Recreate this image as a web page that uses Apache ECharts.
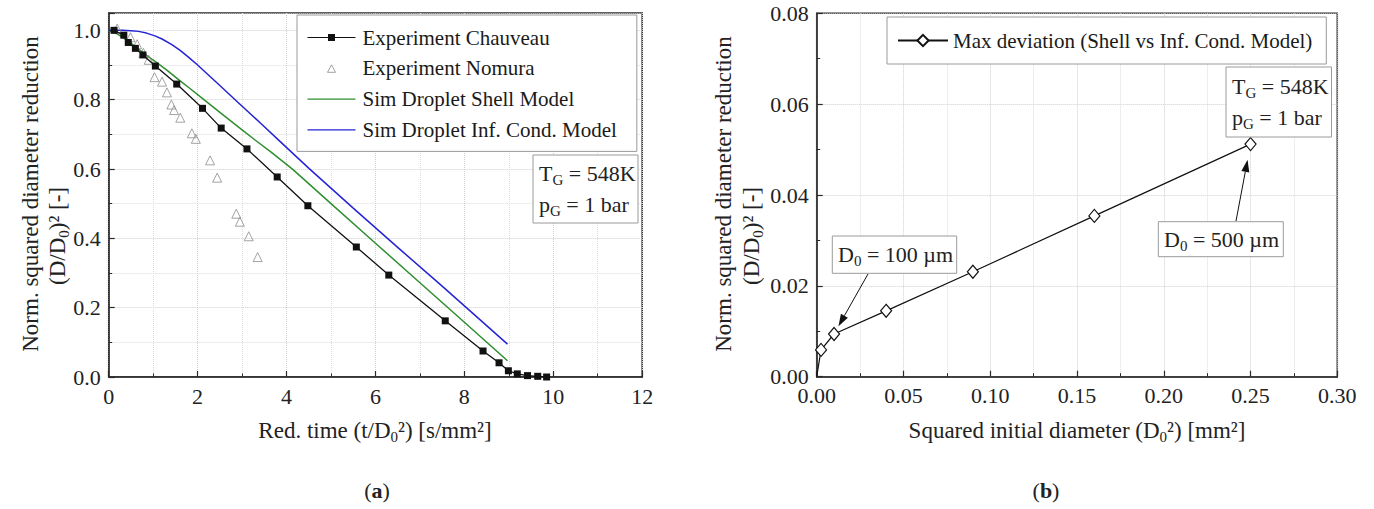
<!DOCTYPE html>
<html><head><meta charset="utf-8">
<script src="https://cdn.jsdelivr.net/npm/echarts@6/dist/echarts.min.js"></script>
<style>html,body{margin:0;padding:0;background:#fff;}#c{width:1374px;height:509px;}</style>
</head><body><div id="c"></div>
<script>
// ---------- data: panel (a) ----------
const chauveauT = [0.12, 0.34, 0.44, 0.60, 0.77, 1.05, 1.53, 2.11, 2.53, 3.11, 3.79, 4.48, 5.57, 6.30, 7.57, 8.42, 8.78, 8.99, 9.19, 9.42, 9.65, 9.85];
const chauveauY = [1.000, 0.986, 0.965, 0.948, 0.929, 0.897, 0.845, 0.775, 0.718, 0.658, 0.577, 0.494, 0.375, 0.294, 0.162, 0.075, 0.041, 0.018, 0.009, 0.004, 0.002, 0.000];
const nomuraT = [0.19, 0.49, 0.64, 0.78, 0.90, 1.03, 1.20, 1.31, 1.41, 1.47, 1.61, 1.87, 1.96, 2.28, 2.44, 2.87, 2.95, 3.15, 3.35];
const nomuraY = [1.005, 0.980, 0.960, 0.935, 0.915, 0.865, 0.852, 0.821, 0.786, 0.770, 0.748, 0.703, 0.687, 0.625, 0.575, 0.471, 0.448, 0.406, 0.346];
const shellT = [0, 0.20, 0.37, 0.50, 0.67, 0.85, 1.05, 1.30, 1.60, 1.80, 2.17, 2.60, 3.00, 3.30, 3.66, 4.14, 5.00, 6.00, 7.00, 8.00, 8.97];
const shellY = [1.000, 0.989, 0.975, 0.963, 0.946, 0.928, 0.910, 0.886, 0.855, 0.835, 0.797, 0.753, 0.713, 0.683, 0.648, 0.599, 0.500, 0.386, 0.272, 0.158, 0.047];
const infT = [0, 0.30, 0.50, 0.67, 0.85, 1.04, 1.20, 1.42, 1.60, 1.80, 2.00, 2.17, 2.50, 2.91, 3.40, 3.84, 4.51, 5.50, 6.50, 7.50, 8.97];
const infY = [1.000, 1.000, 0.999, 0.997, 0.992, 0.984, 0.975, 0.959, 0.943, 0.922, 0.900, 0.880, 0.841, 0.792, 0.734, 0.681, 0.601, 0.487, 0.374, 0.262, 0.095];
const aXTicks = {min: 0, max: 12, interval: 2};
const aYTicks = {min: 0, max: 1.05, interval: 0.2};
// ---------- data: panel (b) ----------
const d0Sq = [0, 0.0025, 0.01, 0.04, 0.09, 0.16, 0.25];
const maxDev = [0, 0.0059, 0.0094, 0.0145, 0.0231, 0.0354, 0.0512];
const bXTicks = {min: 0, max: 0.30, interval: 0.05};
const bYTicks = {min: 0, max: 0.08, interval: 0.02};

const FONT = 'Liberation Serif';
const zip = (a, b) => a.map((v, i) => [v, b[i]]);

function axis(gridIndex, t, dec, minorGrid) {
  return {
    gridIndex, type: 'value', min: t.min, max: t.max, interval: t.interval,
    axisLine: {show: true, onZero: false, lineStyle: {color: '#2a2a2a', width: 1.5}},
    axisTick: {show: true, inside: true, length: 6, lineStyle: {color: '#2a2a2a', width: 1.2}},
    minorTick: {show: true, splitNumber: 2, length: 3.5, lineStyle: {color: '#2a2a2a', width: 1}},
    splitLine: {show: true, lineStyle: {color: '#cfcfcf', type: 'dotted', width: 1}},
    minorSplitLine: {show: minorGrid, lineStyle: {color: '#dcdcdc', type: 'dotted', width: 1}},
    axisLabel: {color: '#222', fontSize: 22, fontFamily: FONT, margin: 8,
      formatter: v => (Math.abs(v / t.interval - Math.round(v / t.interval)) > 1e-6) ? '' : (dec === 0 ? String(Math.round(v)) : v.toFixed(dec))}
  };
}

const chart = echarts.init(document.getElementById('c'), null, {renderer: 'svg'});

const richBase = {
  n: {fontSize: 23, fontFamily: FONT, fill: '#222', lineHeight: 28},
  t: {fontSize: 22, fontFamily: FONT, fill: '#222', lineHeight: 28},
  s: {fontSize: 15, fontFamily: FONT, fill: '#222', lineHeight: 15, verticalAlign: 'bottom'},
  b: {fontSize: 22, fontFamily: FONT, fill: '#222', lineHeight: 28, fontWeight: 'bold'}
};
function txt(x, y, text, opts) {
  opts = opts || {};
  return {type: 'text', x, y, rotation: opts.rot || 0, z: 100,
    style: {text, rich: richBase, fontSize: opts.fs || 23, fontFamily: FONT, fill: '#222',
      align: opts.align || 'center', verticalAlign: opts.va || 'middle'}};
}
function box(x, y, w, h) {
  return {type: 'rect', z: 90, shape: {x, y, width: w, height: h},
    style: {fill: '#fff', stroke: '#9a9a9a', lineWidth: 1}};
}
// legend icons (frame of 48x14 kept by the two leading moves)
const ICON_FRAME = 'path://M0,0M48,14';
const iconLine = ICON_FRAME + 'M0,6.3h48v1.4h-48z';
const iconLineSquare = ICON_FRAME + 'M0,6.4h48v1.2h-48zM20.5,3.5h7v7h-7z';
const iconTriangle = ICON_FRAME + 'M20,11L24,3.5L28,11Z';

const option = {
  animation: false,
  backgroundColor: '#fff',
  grid: [
    {left: 108.7, top: 13, width: 533.5, height: 364, show: true, borderColor: '#2a2a2a', borderWidth: 1.5, backgroundColor: 'transparent'},
    {left: 816.7, top: 13.3, width: 520.6, height: 363.4, show: true, borderColor: '#2a2a2a', borderWidth: 1.5, backgroundColor: 'transparent'}
  ],
  xAxis: [axis(0, aXTicks, 0, true), axis(1, bXTicks, 2, true)],
  yAxis: [axis(0, aYTicks, 1, true), axis(1, bYTicks, 2, false)],
  legend: [
    {data: [
       {name: 'Experiment Chauveau', icon: iconLineSquare, itemStyle: {color: '#111', borderWidth: 0}},
       {name: 'Experiment Nomura', icon: iconTriangle, itemStyle: {color: 'rgba(255,255,255,0)', borderColor: '#8c8c8c', borderWidth: 1}},
       {name: 'Sim Droplet Shell Model', icon: iconLine, itemStyle: {color: '#2f8f2f', borderWidth: 0}},
       {name: 'Sim Droplet Inf. Cond. Model', icon: iconLine, itemStyle: {color: '#2424d6', borderWidth: 0}}],
     orient: 'vertical', left: 297, top: 15, padding: [12, 20, 11, 10], itemGap: 9.8, itemWidth: 48, itemHeight: 14,
     symbolKeepAspect: true,
     borderColor: '#9a9a9a', borderWidth: 1, backgroundColor: '#fff', selectedMode: false,
     textStyle: {fontFamily: FONT, fontSize: 21, color: '#1a1a1a', padding: [0, 0, 0, 2]}},
    {data: ['Max deviation (Shell vs Inf. Cond. Model)'],
     orient: 'vertical', left: 887, top: 17, padding: [13, 14, 13, 10], itemWidth: 50, itemHeight: 14,
     borderColor: '#9a9a9a', borderWidth: 1, backgroundColor: '#fff', selectedMode: false,
     textStyle: {fontFamily: FONT, fontSize: 21, color: '#1a1a1a'}}
  ],
  series: [
    {name: 'Experiment Chauveau', type: 'line', xAxisIndex: 0, yAxisIndex: 0, data: zip(chauveauT, chauveauY),
     symbol: 'rect', symbolSize: 7, color: '#111', lineStyle: {color: '#111', width: 1.3}, itemStyle: {color: '#111'}, z: 5},
    {name: 'Experiment Nomura', type: 'scatter', xAxisIndex: 0, yAxisIndex: 0, data: zip(nomuraT, nomuraY),
     symbol: 'triangle', symbolSize: 9, itemStyle: {color: 'rgba(255,255,255,0)', borderColor: '#8c8c8c', borderWidth: 1}, z: 4},
    {name: 'Sim Droplet Shell Model', type: 'line', xAxisIndex: 0, yAxisIndex: 0, data: zip(shellT, shellY),
     symbol: 'none', showSymbol: false, color: '#2f8f2f', lineStyle: {color: '#2f8f2f', width: 1.5}, z: 3},
    {name: 'Sim Droplet Inf. Cond. Model', type: 'line', xAxisIndex: 0, yAxisIndex: 0, data: zip(infT, infY),
     symbol: 'none', showSymbol: false, color: '#2424d6', lineStyle: {color: '#2424d6', width: 1.5}, z: 3},
    {name: 'Max deviation (Shell vs Inf. Cond. Model)', type: 'line', xAxisIndex: 1, yAxisIndex: 1,
     data: zip(d0Sq, maxDev).map((p, i) => i === 0 ? {value: p, symbolSize: 0} : p),
     symbol: 'diamond', symbolSize: [11, 13], color: '#111',
     itemStyle: {color: '#fff', borderColor: '#111', borderWidth: 1.2}, lineStyle: {color: '#111', width: 1.2}, z: 5}
  ]
};
chart.setOption(option);

// annotations and axis titles
const g = [];
g.push(txt(30, 194, '{n|Norm. squared diameter reduction}', {rot: Math.PI / 2}));
g.push(txt(57, 236, '{n|(D/D}{s|0}{n|)² [-]}', {rot: Math.PI / 2}));
g.push(txt(723, 194, '{n|Norm. squared diameter reduction}', {rot: Math.PI / 2}));
g.push(txt(751, 236, '{n|(D/D}{s|0}{n|)² [-]}', {rot: Math.PI / 2}));
g.push(txt(375, 430, '{n|Red. time (t/D}{s|0}{n|²) [s/mm²]}'));
g.push(txt(1077, 430, '{n|Squared initial diameter (D}{s|0}{n|²) [mm²]}'));
g.push(txt(377, 490, '{t|(}{b|a}{t|)}'));
g.push(txt(1046, 490, '{t|(}{b|b}{t|)}'));
// condition boxes
g.push(box(533, 155, 105, 68));
g.push(txt(539, 173, '{t|T}{s|G}{t| = 548K}', {align: 'left'}));
g.push(txt(539, 204, '{t|p}{s|G}{t| = 1 bar}', {align: 'left'}));
g.push(box(1226, 67, 105.5, 70));
g.push(txt(1232, 86, '{t|T}{s|G}{t| = 548K}', {align: 'left'}));
g.push(txt(1232, 117, '{t|p}{s|G}{t| = 1 bar}', {align: 'left'}));
// diameter labels
g.push(box(832.3, 236, 124.4, 37.3));
g.push(txt(838, 254.5, '{t|D}{s|0}{t| = 100 µm}', {align: 'left'}));
g.push(box(1158.3, 221.7, 125, 35));
g.push(txt(1164, 239, '{t|D}{s|0}{t| = 500 µm}', {align: 'left'}));

function arrow(from, to, gap) {
  const dx = from[0] - to[0], dy = from[1] - to[1];
  const L = Math.hypot(dx, dy), ux = dx / L, uy = dy / L;
  const tip = [to[0] + ux * gap, to[1] + uy * gap];
  const hl = 12, hw = 4;
  const base = [tip[0] + ux * hl, tip[1] + uy * hl];
  const px = -uy, py = ux;
  return [
    {type: 'line', z: 95, shape: {x1: from[0], y1: from[1], x2: base[0], y2: base[1]}, style: {stroke: '#111', lineWidth: 1}},
    {type: 'polygon', z: 95, shape: {points: [tip, [base[0] + px * hw, base[1] + py * hw], [base[0] - px * hw, base[1] - py * hw]]}, style: {fill: '#111'}}
  ];
}
const p100 = chart.convertToPixel({xAxisIndex: 1, yAxisIndex: 1}, [d0Sq[2], maxDev[2]]);
const p500 = chart.convertToPixel({xAxisIndex: 1, yAxisIndex: 1}, [d0Sq[6], maxDev[6]]);
g.push(...arrow([868, 274], p100, 9));
g.push(...arrow([1236, 221], p500, 16));

chart.setOption({graphic: g});
</script></body></html>
